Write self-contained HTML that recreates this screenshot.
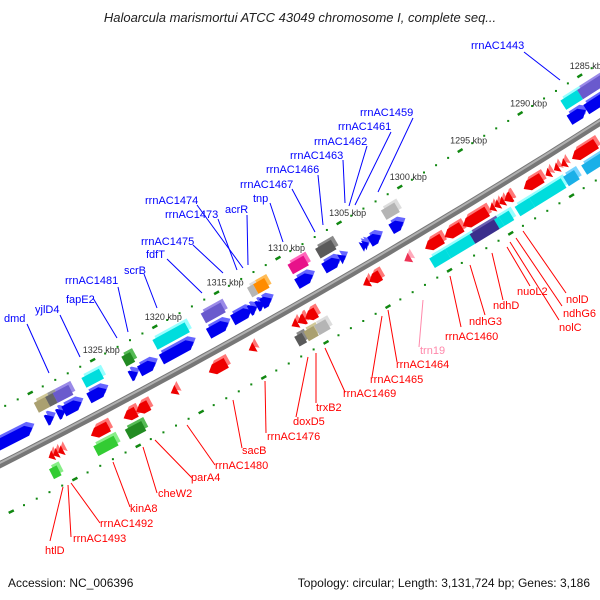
<!DOCTYPE html>
<html><head><meta charset="utf-8"><style>
html,body{margin:0;padding:0;background:#fff;overflow:hidden;width:600px;height:600px;}
svg{display:block;font-family:"Liberation Sans",sans-serif;overflow:hidden;}
</style></head><body>
<svg id="map" width="600" height="600" viewBox="0 0 600 600" xmlns="http://www.w3.org/2000/svg">
<text x="300" y="22" text-anchor="middle" font-size="13" font-style="italic" fill="#222">Haloarcula marismortui ATCC 43049 chromosome I, complete seq...</text>
<g id="bb"></g>
<g id="dots"></g>
<g id="feats"></g>
<g id="labels"></g>
<text x="8" y="587" font-size="12" fill="#111">Accession: NC_006396</text>
<text x="590" y="587" text-anchor="end" font-size="12" fill="#111">Topology: circular; Length: 3,131,724 bp; Genes: 3,186</text>
</svg>
<script>
const tickKbp = [1285,1290,1295,1300,1305,1310,1315,1320,1325];
const featStart = [1331,1329.3,1328.4,1327.1,1325.1,1322.6,1321.15,1318.1,1315.3,1313.45,1313.0,1312.4,1311.8,1308.45,1306.25,1305.75,1304.1,1303.9,1302.9,1301.05,1285.95,1283,
 1329.2,1328.6,1327.35,1324.9,1322.4,1318.0,1315.1,1312.45,1311.55,1308.35,1306.1,1300.9,1285.7,1283,
 1330.55,1330.2,1329.8,1326.2,1324.0,1323.0,1320.75,1316.8,1314.5,1311.05,1310.45,1309.55,1305.25,1304.35,1301.9,1299.3,1297.7,1295.6,1295.0,1294.6,1294.2,1293.6,1291.1,1290.4,1289.7,1289.1,1286.6,
 1330.7,1326.2,1324.0,1311.15,1310.2,1309.25,1299.5,1297.5,1295.5,1295.1,1294.3,1292.6,1290.0,1288.9,1283];
const featEnd = [1337,1329.9,1329.0,1328.5,1326.5,1323.2,1322.45,1320.7,1316.9,1314.95,1313.6,1313.0,1312.6,1309.75,1307.55,1306.25,1304.5,1304.3,1303.8,1302.05,1287.3,1285.9,
 1330.1,1329.2,1328.6,1326.3,1323.1,1320.6,1316.7,1312.95,1312.45,1309.65,1307.4,1302.0,1287.1,1285.7,
 1330.95,1330.6,1330.2,1327.6,1325.0,1324.0,1321.25,1318.2,1315.0,1311.55,1311.05,1310.45,1305.75,1305.25,1302.4,1300.7,1299.1,1297.6,1295.4,1295.0,1294.6,1294.2,1292.6,1290.8,1290.1,1289.5,1288.6,
 1331.3,1327.8,1325.3,1311.75,1311.0,1310.15,1300.8,1299.5,1297.5,1295.5,1295.1,1293.8,1292.6,1289.8,1288.3];
const featTrack = ["U1","U1","U1","U1","U1","U1","U1","U1","U1","U1","U1","U1","U1","U1","U1","U1","U1","U1","U1","U1","U1","U1",
 "U2","U2","U2","U2","U2","U2","U2","U2","U2","U2","U2","U2","U2","U2",
 "L1","L1","L1","L1","L1","L1","L1","L1","L1","L1","L1","L1","L1","L1","L1","L1","L1","L1","L1","L1","L1","L1","L1","L1","L1","L1","L1",
 "L2","L2","L2","L2","L2","L2","L2","L2","L2","L2","L2","L2","L2","L2","L2"];
const featType = ["cds","cds","cds","cds","cds","cds","cds","cds","cds","cds","cds","cds","cds","cds","cds","cds","cds","cds","cds","cds","cds","cds",
 "olive","gray","purple","cyan","dgreen","cyan","purple","lgray","orange","magenta","dgray","lgray","cyan","purple",
 "rcds","rcds","rcds","rcds","rcds","rcds","rcds","rcds","rcds","rcds","rcds","rcds","rcds","rcds","pink","rcds","rcds","rcds","rcds","rcds","rcds","rcds","rcds","rcds","rcds","rcds","rcds",
 "green","green","dgreen","dgray","olive","lgray","cyan","cyan","dpurple","cyan","cyan","cyan","cyan","sky","sky"];

const CX=-3063, CY=-5931, RB=7080;
const ROT=-1.34*Math.PI/180, PX=400, PY=187;
const trackR={U2:7046,U1:7062,L1:7096,L2:7112};
const colors={cds:["#0000ee","#6666ff"],rcds:["#ee0000","#ff7777"],pink:["#ee3355","#ffaabb"],olive:["#aaa070","#d0c898"],gray:["#666666","#999999"],dgray:["#5a5a5a","#8a8a8a"],lgray:["#b5b5b5","#dddddd"],purple:["#6a5acd","#9a8ae8"],dpurple:["#3a2e8c","#6a5eb0"],cyan:["#00dddd","#99ffff"],dgreen:["#228b22","#55bb55"],green:["#33cc33","#88ee88"],orange:["#ff8c00","#ffbb55"],magenta:["#e8118a","#ff66bb"],sky:["#1ab0e8","#77d4ff"]};
const NS="http://www.w3.org/2000/svg";
function pt(k,r){
 const a=(60.49+(k-1300)*0.11495)*Math.PI/180;
 const x=CX+r*Math.cos(a)-PX, y=CY+r*Math.sin(a)-PY;
 return [PX+x*Math.cos(ROT)-y*Math.sin(ROT), PY+x*Math.sin(ROT)+y*Math.cos(ROT)];
}
function P(a){return a.map(p=>p[0].toFixed(1)+","+p[1].toFixed(1)).join(" ");}

const bb=document.getElementById("bb");
function arcPath(r){const a=[];for(let k=1276;k<=1340;k+=1)a.push(pt(k,r));return P(a);}
const c1=document.createElementNS(NS,"polyline");


c1.setAttribute("points",arcPath(RB));c1.setAttribute("fill","none");c1.setAttribute("stroke","#777");c1.setAttribute("stroke-width","7");
bb.appendChild(c1);
const c2=document.createElementNS(NS,"polyline");


c2.setAttribute("points",arcPath(RB-1.5));c2.setAttribute("fill","none");c2.setAttribute("stroke","#b0b0b0");c2.setAttribute("stroke-width","2");
bb.appendChild(c2);

const dots=document.getElementById("dots");
[7030,7127].forEach(r=>{
 for(let k=1280;k<=1336;k++){
  if(k%5===0){
   const a=pt(k-0.2,r),b=pt(k+0.2,r);
   const l=document.createElementNS(NS,"line");
   
   
   l.setAttribute("x1",a[0]);l.setAttribute("y1",a[1]);l.setAttribute("x2",b[0]);l.setAttribute("y2",b[1]);
   l.setAttribute("stroke","#118811");l.setAttribute("stroke-width","2.5");
   dots.appendChild(l);
  } else {
   const p=pt(k,r);
   const d=document.createElementNS(NS,"rect");
   
   
   d.setAttribute("x",p[0]-1);d.setAttribute("y",p[1]-1);d.setAttribute("width",2);d.setAttribute("height",2);d.setAttribute("fill","#118811");
   dots.appendChild(d);
  }
 }
});
tickKbp.forEach(k=>{
 const p=pt(k,7030);
 const t=document.createElementNS(NS,"text");
 
 
 t.setAttribute("x",p[0]-10);t.setAttribute("y",p[1]-7);t.setAttribute("font-size","9");t.setAttribute("fill","#333");
 t.textContent=k+" kbp";
 dots.appendChild(t);
});

const feats=document.getElementById("feats");
for(let i=0;i<featStart.length;i++){
 const k1=featStart[i],k2=featEnd[i],tr=featTrack[i],r=trackR[tr],h=11;
 const r0=r-h/2,r1=r+h/2,hl=0.45;
 let poly;
 if(tr==="U1"){
  if(k2-k1<=hl*1.3) poly=[pt(k1,r),pt(k2,r0),pt(k2,r1)];
  else poly=[pt(k1,r),pt(k1+hl,r0),pt(k2,r0),pt(k2,r1),pt(k1+hl,r1)];
 } else if(tr==="L1"){
  if(k2-k1<=hl*1.3) poly=[pt(k2,r),pt(k1,r0),pt(k1,r1)];
  else poly=[pt(k2,r),pt(k2-hl,r0),pt(k1,r0),pt(k1,r1),pt(k2-hl,r1)];
 } else {
  poly=[pt(k1,r0),pt(k2,r0),pt(k2,r1),pt(k1,r1)];
 }
 const col=colors[featType[i]];
 const g=document.createElementNS(NS,"g");
 
 
 const top=document.createElementNS(NS,"polygon");
 top.setAttribute("points",P(poly.map(p=>[p[0]+2,p[1]-4])));top.setAttribute("fill",col[1]);
 const main=document.createElementNS(NS,"polygon");
 main.setAttribute("points",P(poly));main.setAttribute("fill",col[0]);
 g.appendChild(top);g.appendChild(main);
 feats.appendChild(g);
}

const labText=["dmd","yjlD4","fapE2","rrnAC1481","scrB","fdfT","rrnAC1475","rrnAC1473","rrnAC1474","acrR","tnp","rrnAC1467","rrnAC1466","rrnAC1463","rrnAC1462","rrnAC1461","rrnAC1459","rrnAC1443",
 "htlD","rrnAC1493","rrnAC1492","kinA8","cheW2","parA4","rrnAC1480","sacB","rrnAC1476","doxD5","trxB2","rrnAC1469","rrnAC1465","rrnAC1464","trn19","rrnAC1460","ndhG3","ndhD","nuoL2","nolD","ndhG6","nolC"];
const labLayout=[[4,322,27,324,49,373],[35,313,60,315,80,357],[66,303,93,298,117,338],[65,284,118,287,128,332],[124,274,144,274,157,308],[146,258,167,259,202,293],[141,245,193,245,223,273],[165,218,218,219,237,270],[145,204,197,205,243,268],[225,213,247,215,248,265],[253,202,270,203,283,242],[240,188,292,189,315,232],[266,173,318,175,323,225],[290,159,343,160,345,203],[314,145,367,146,349,206],[338,130,391,132,355,205],[360,116,413,118,378,192],[471,49,524,52,560,80],
 [45,554,50,541,63,487],[73,542,71,537,68,485],[100,527,100,523,71,483],[130,512,130,507,113,462],[158,497,157,493,143,447],[191,481,192,478,155,440],[215,469,215,465,187,425],[242,454,242,448,233,400],[267,440,266,433,265,381],[293,425,296,417,308,357],[316,411,316,403,316,353],[343,397,345,392,325,348],[370,383,372,377,382,316],[396,368,397,362,388,310],[420,354,419,347,423,300],[445,340,461,327,450,276],[469,325,485,315,470,265],[493,309,503,300,492,253],[517,295,530,286,507,247],[566,303,566,293,523,231],[563,317,562,306,516,238],[559,331,559,320,510,242]];
const labs=document.getElementById("labels");
for(let i=0;i<labText.length;i++){
 const L=labLayout[i];const up=i<18;const col=up?"#0000ff":(labText[i]==="trn19"?"#ff88aa":"#ff0000");
 const ln=document.createElementNS(NS,"line");
 
 
 ln.setAttribute("x1",L[2]);ln.setAttribute("y1",L[3]);ln.setAttribute("x2",L[4]);ln.setAttribute("y2",L[5]);ln.setAttribute("stroke",col);ln.setAttribute("stroke-width","1");
 labs.appendChild(ln);
 const t=document.createElementNS(NS,"text");
 
 
 t.setAttribute("x",L[0]);t.setAttribute("y",L[1]);t.setAttribute("font-size","11");t.setAttribute("fill",col);
 t.textContent=labText[i];
 labs.appendChild(t);
}
</script>
</body></html>
